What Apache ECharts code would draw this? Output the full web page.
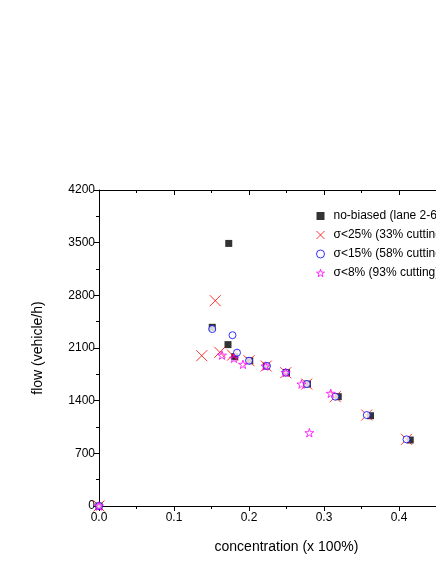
<!DOCTYPE html>
<html>
<head>
<meta charset="utf-8">
<script src="https://cdn.jsdelivr.net/npm/echarts@6/dist/echarts.min.js"></script>
<style>
  html, body { margin: 0; padding: 0; width: 436px; height: 564px; overflow: hidden; background: #fff; }
  #chart { width: 520px; height: 564px; }
</style>
</head>
<body>
<div id="chart"></div>
<script>
// concentration / flow pairs
var noBiased = [
  [0, 0], [0.151, 2375], [0.173, 3490], [0.172, 2145], [0.181, 1985],
  [0.201, 1930], [0.223, 1860], [0.25, 1772], [0.278, 1621],
  [0.319, 1453], [0.362, 1200], [0.415, 877]
]
var sigma25 = [
  [0, 0], [0.155, 2729], [0.137, 1998], [0.161, 2043], [0.178, 2005],
  [0.2, 1931], [0.223, 1860], [0.249, 1772], [0.277, 1621],
  [0.315, 1453], [0.357, 1209], [0.41, 886]
]
var sigma15 = [
  [0, 0], [0.151, 2352], [0.178, 2270], [0.184, 2038], [0.2, 1931],
  [0.224, 1861], [0.249, 1772], [0.277, 1621], [0.315, 1453],
  [0.357, 1209], [0.41, 886]
]
var sigma8 = [
  [0, 0], [0.164, 2005], [0.18, 1963], [0.192, 1883], [0.222, 1861],
  [0.249, 1775], [0.27, 1621], [0.309, 1498], [0.2805, 974]
]
var seriesNames = [
  'no-biased (lane 2-6)',
  'σ<25% (33% cutting)',
  'σ<15% (58% cutting)',
  'σ<8% (93% cutting)'
]

var starPath = 'path://M50,0 L61,35 L98,35 L68,57 L79,91 L50,70 L21,91 L32,57 L2,35 L39,35 Z'
var crossPath = 'path://M0,0 L10,10 M10,0 L0,10'
var font = 'Liberation Sans, Arial, sans-serif'

var myChart = echarts.init(document.getElementById('chart'))
var option = {
  animation: false,
  textStyle: { fontFamily: font },
  grid: { left: 99, top: 190, width: 375, height: 316, containLabel: false },
  legend: {
    orient: 'vertical',
    left: 311,
    top: 205,
    itemWidth: 8,
    itemHeight: 8,
    itemGap: 7,
    textStyle: { fontSize: 12, color: '#000', fontFamily: font, padding: [0, 0, 0, 4] },
    data: [
      { name: seriesNames[0], itemStyle: { color: '#000' } },
      { name: seriesNames[1], itemStyle: { color: 'transparent', borderColor: '#ff0000', borderWidth: 1 } },
      { name: seriesNames[2], itemStyle: { color: '#fff', borderColor: '#0000ff', borderWidth: 1 } },
      { name: seriesNames[3], itemStyle: { color: 'transparent', borderColor: '#ff00ff', borderWidth: 1 } }
    ]
  },
  xAxis: [
    {
      type: 'value',
      min: 0,
      max: 0.5,
      interval: 0.1,
      name: 'concentration (x 100%)',
      nameLocation: 'middle',
      nameGap: 34,
      nameTextStyle: { fontSize: 14, color: '#000', fontFamily: font },
      axisLine: { show: true, onZero: false, lineStyle: { color: '#000', width: 1 } },
      axisTick: { show: true, length: 5, lineStyle: { color: '#000' } },
      minorTick: { show: true, splitNumber: 2, length: 3, lineStyle: { color: '#000' } },
      axisLabel: {
        fontSize: 12, color: '#000', margin: 6,
        formatter: function (v) { return v.toFixed(1) }
      },
      splitLine: { show: false }
    },
    {
      type: 'value',
      position: 'top',
      min: 0,
      max: 0.5,
      interval: 0.1,
      axisLine: { show: true, onZero: false, lineStyle: { color: '#000', width: 1 } },
      axisTick: { show: true, inside: true, length: 5, lineStyle: { color: '#000' } },
      minorTick: { show: true, splitNumber: 2, length: 3, lineStyle: { color: '#000' } },
      axisLabel: { show: false },
      splitLine: { show: false }
    }
  ],
  yAxis: [
    {
      type: 'value',
      min: 0,
      max: 4200,
      interval: 700,
      name: 'flow (vehicle/h)',
      nameLocation: 'middle',
      nameGap: 54,
      nameTextStyle: { fontSize: 14, color: '#000', fontFamily: font },
      axisLine: { show: true, onZero: false, lineStyle: { color: '#000', width: 1 } },
      axisTick: { show: true, length: 5, lineStyle: { color: '#000' } },
      minorTick: { show: true, splitNumber: 2, length: 3, lineStyle: { color: '#000' } },
      axisLabel: {
        fontSize: 12, color: '#000', margin: 4,
        formatter: function (v) { return String(v) }
      },
      splitLine: { show: false }
    },
    {
      type: 'value',
      position: 'right',
      min: 0,
      max: 4200,
      interval: 700,
      axisLine: { show: true, onZero: false, lineStyle: { color: '#000', width: 1 } },
      axisTick: { show: true, inside: true, length: 5, lineStyle: { color: '#000' } },
      axisLabel: { show: false },
      splitLine: { show: false }
    }
  ],
  series: [
    {
      name: seriesNames[0],
      type: 'scatter',
      symbol: 'rect',
      symbolSize: 7,
      itemStyle: { color: '#000' },
      data: noBiased,
      z: 2
    },
    {
      name: seriesNames[1],
      type: 'scatter',
      symbol: crossPath,
      symbolSize: 11,
      symbolKeepAspect: true,
      itemStyle: { color: 'transparent', borderColor: '#ff0000', borderWidth: 1 },
      data: sigma25,
      z: 3
    },
    {
      name: seriesNames[2],
      type: 'scatter',
      symbol: 'circle',
      symbolSize: 7,
      itemStyle: { color: '#fff', borderColor: '#0000ff', borderWidth: 1 },
      data: sigma15,
      z: 4
    },
    {
      name: seriesNames[3],
      type: 'scatter',
      symbol: starPath,
      symbolSize: 9,
      symbolKeepAspect: true,
      itemStyle: { color: 'transparent', borderColor: '#ff00ff', borderWidth: 1 },
      data: sigma8,
      z: 5
    }
  ]
}

option && myChart.setOption(option)
</script>
</body>
</html>
